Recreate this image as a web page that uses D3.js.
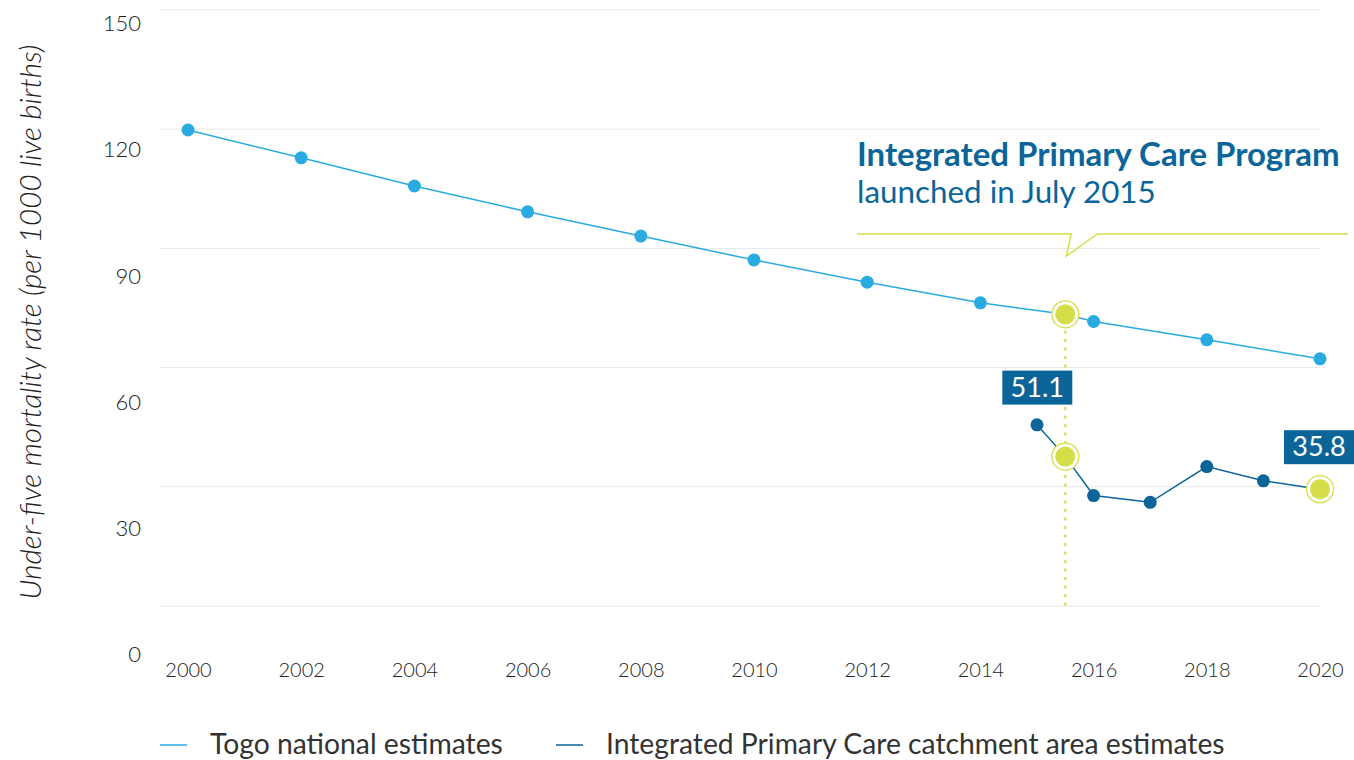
<!DOCTYPE html>
<html><head><meta charset="utf-8">
<script src="https://cdn.jsdelivr.net/npm/d3@7/dist/d3.min.js"></script>
<style>
html,body{margin:0;padding:0;background:#fff;}
text{font-family:Lato,"Open Sans",sans-serif;}
</style></head>
<body>
<svg id="chart" width="1354" height="760"></svg>
<script>
// ---- data ----
const togoYears = [2000, 2002, 2004, 2006, 2008, 2010, 2012, 2014, 2016, 2018, 2020];
const togoValues = [119.8, 112.8, 105.7, 99.2, 93.1, 87.1, 81.5, 76.3, 71.6, 67.0, 62.2];
const ipcYears = [2015, 2015.5, 2016, 2017, 2018, 2019, 2020];
const ipcValues = [45.6, 37.6, 27.8, 26.1, 35.1, 31.5, 29.4];
const launchYear = 2015.5;
const launchTogo = 73.4;
const highlightLabels = ["51.1", "35.8"];
const xTicks = [2000, 2002, 2004, 2006, 2008, 2010, 2012, 2014, 2016, 2018, 2020];
const yTicks = [0, 30, 60, 90, 120, 150];
const seriesNames = ["Togo national estimates", "Integrated Primary Care catchment area estimates"];
const colors = {togo: "#29abe2", ipc: "#0b6599", accent: "#d5de48", grid: "#e6e6e6", text: "#333333"};

const svg = d3.select("#chart");
const x = d3.scaleLinear().domain([2000, 2020]).range([188, 1320]);
const y = d3.scaleLinear().domain([0, 150]).range([606, 10]);
const yLabel = d3.scaleLinear().domain([0, 150]).range([654, 23]);

// gridlines
svg.append("g").selectAll("line").data(yTicks).join("line")
  .attr("x1", 160).attr("x2", 1320)
  .attr("y1", d => y(d)).attr("y2", d => y(d))
  .attr("stroke", colors.grid).attr("stroke-width", 1);

// y tick labels
const ya = svg.append("g").attr("transform", "translate(141,0)")
  .call(d3.axisLeft(yLabel).tickValues(yTicks).tickSize(0).tickPadding(0));
ya.select(".domain").remove();
ya.selectAll("text").attr("font-size", 22).attr("fill", "#222").attr("font-weight", 300)
  .style("font-family", "Lato, sans-serif").attr("dy", "0.35em");

// x tick labels
const xa = svg.append("g").attr("transform", "translate(0,660)")
  .call(d3.axisBottom(x).tickValues(xTicks).tickFormat(d3.format("d")).tickSize(0).tickPadding(0));
xa.select(".domain").remove();
xa.selectAll("text").attr("font-size", 20).attr("fill", "#222").attr("font-weight", 300)
  .style("font-family", "Lato, sans-serif").attr("dy", "0.35em").attr("y", 10);

// y axis title
const yt = svg.append("text")
  .attr("transform", "translate(41,322) rotate(-90)")
  .attr("text-anchor", "middle")
  .attr("font-size", 22).attr("font-style", "italic").attr("font-weight", 300).attr("fill", "#222")
  .text("Under-five mortality rate (per 1000 live births)");
{ const L = yt.node().getComputedTextLength(); yt.attr("font-size", 22 * 555 / L); }

// dotted launch line
svg.append("line")
  .attr("x1", x(launchYear)).attr("x2", x(launchYear))
  .attr("y1", y(launchTogo)).attr("y2", y(0))
  .attr("stroke", colors.accent).attr("stroke-width", 2.2)
  .attr("stroke-dasharray", "1.5,7").attr("stroke-linecap", "round");

// togo line
const togoData = togoYears.map((yr, i) => ({yr, v: togoValues[i]}));
const togoLineData = togoData.slice(0, 8).concat([{yr: launchYear, v: launchTogo}], togoData.slice(8));
const line = d3.line().x(d => x(d.yr)).y(d => y(d.v));
svg.append("path").datum(togoLineData).attr("d", line)
  .attr("fill", "none").attr("stroke", colors.togo).attr("stroke-width", 1.5);
svg.append("g").selectAll("circle").data(togoData).join("circle")
  .attr("cx", d => x(d.yr)).attr("cy", d => y(d.v)).attr("r", 6.5).attr("fill", colors.togo);

// ipc line
const ipcData = ipcYears.map((yr, i) => ({yr, v: ipcValues[i]}));
svg.append("path").datum(ipcData).attr("d", line)
  .attr("fill", "none").attr("stroke", colors.ipc).attr("stroke-width", 1.5);
svg.append("g").selectAll("circle").data(ipcData.filter(d => d.yr !== launchYear && d.yr !== 2020)).join("circle")
  .attr("cx", d => x(d.yr)).attr("cy", d => y(d.v)).attr("r", 6.5).attr("fill", colors.ipc);

// highlighted points
const hl = [{yr: launchYear, v: launchTogo}, {yr: launchYear, v: ipcValues[1]}, {yr: 2020, v: ipcValues[6]}];
const hg = svg.append("g");
hg.selectAll("circle.ring").data(hl).join("circle").attr("class", "ring")
  .attr("cx", d => x(d.yr)).attr("cy", d => y(d.v)).attr("r", 13.5)
  .attr("fill", "#fff").attr("stroke", colors.accent).attr("stroke-width", 1.3);
hg.selectAll("circle.dot").data(hl).join("circle").attr("class", "dot")
  .attr("cx", d => x(d.yr)).attr("cy", d => y(d.v)).attr("r", 10)
  .attr("fill", colors.accent);

// value labels
const labs = [
  {text: highlightLabels[0], yr: launchYear, v: ipcValues[1], dx: -63, dy: -86},
  {text: highlightLabels[1], yr: 2020, v: ipcValues[6], dx: -36, dy: -59}
];
labs.forEach(l => {
  const g = svg.append("g").attr("transform", `translate(${x(l.yr) + l.dx},${y(l.v) + l.dy})`);
  g.append("rect").attr("width", 70).attr("height", 34).attr("fill", colors.ipc);
  g.append("text").attr("x", 35).attr("y", 26).attr("text-anchor", "middle")
    .attr("font-size", 27).attr("fill", "#fff").text(l.text);
});

// annotation
const ann = svg.append("g");
const t1 = ann.append("text").attr("x", 857).attr("y", 166)
  .attr("font-size", 28).attr("font-weight", "bold").attr("fill", colors.ipc)
  .text("Integrated Primary Care Program");
const t2 = ann.append("text").attr("x", 857).attr("y", 203)
  .attr("font-size", 28).attr("fill", colors.ipc)
  .text("launched in July 2015");
function fit(t, w) { const L = t.node().getComputedTextLength(); t.attr("font-size", 28 * w / L); }
fit(t1, 483); fit(t2, 299);
const lx = x(launchYear);
ann.append("path")
  .attr("d", `M857,234 L${lx + 6},234 L${lx + 1},256 L${lx + 32},234 L1348,234`)
  .attr("fill", "none").attr("stroke", colors.accent).attr("stroke-width", 1.5);

// legend
const legend = svg.append("g");
const legItems = [
  {name: seriesNames[0], color: colors.togo, x0: 160, w: 293},
  {name: seriesNames[1], color: colors.ipc, x0: 556, w: 619}
];
legItems.forEach(it => {
  legend.append("line").attr("x1", it.x0).attr("x2", it.x0 + 27)
    .attr("y1", 745).attr("y2", 745).attr("stroke", it.color).attr("stroke-width", 1.5);
  const t = legend.append("text").attr("x", it.x0 + 50).attr("y", 754)
    .attr("font-size", 26).attr("fill", colors.text).text(it.name);
  const L = t.node().getComputedTextLength();
  t.attr("font-size", 26 * it.w / L);
});
</script>
</body></html>
